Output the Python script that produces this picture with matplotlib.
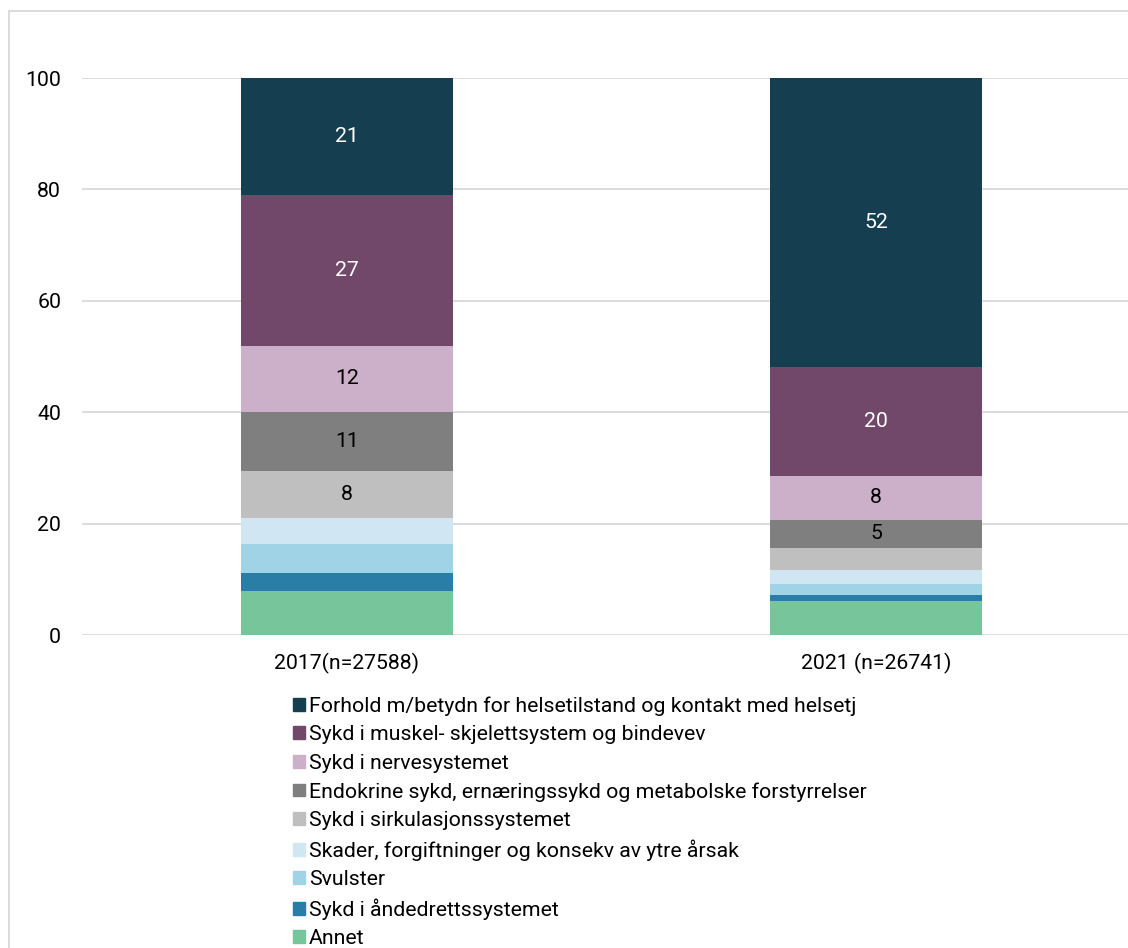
import matplotlib.pyplot as plt
import matplotlib.patches as mpatches
import numpy as np

plt.rcParams['font.family'] = ['Roboto', 'DejaVu Sans']

years = ['2017(n=27588)', '2021 (n=26741)']

# stacked from bottom to top
series = [
    'Annet',
    'Sykd i åndedrettssystemet',
    'Svulster',
    'Skader, forgiftninger og konsekv av ytre årsak',
    'Sykd i sirkulasjonssystemet',
    'Endokrine sykd, ernæringssykd og metabolske forstyrrelser',
    'Sykd i nervesystemet',
    'Sykd i muskel- skjelettsystem og bindevev',
    'Forhold m/betydn for helsetilstand og kontakt med helsetj',
]
annet = [7.9, 6.2]
aandedrett = [3.3, 1.0]
svulster = [5.2, 2.0]
skader = [4.6, 2.6]
sirkulasjon = [8.4, 3.9]
endokrine = [10.6, 5.0]
nerve = [12.0, 7.9]
muskel = [27.0, 19.6]
forhold = [21.0, 51.8]
values = [annet, aandedrett, svulster, skader, sirkulasjon, endokrine, nerve, muskel, forhold]

colors = ['#76c59b', '#2a7da6', '#a0d3e6', '#d0e7f3', '#bfbfbf',
          '#7f7f7f', '#ccafc9', '#714869', '#163e51']
text_colors = ['black'] * 7 + ['white', 'white']
labelled = [False, False, False, False, True, True, True, True, True]

fs = 15.3

fig = plt.figure(figsize=(11.28, 9.48), dpi=100)
ax = fig.add_axes([82 / 1128, 1 - 635.3 / 948, 1059 / 1128, 557.3 / 948])

x = np.arange(len(years))
bottom = np.zeros(len(years))
for name, vals, col, tcol, lab in zip(series, values, colors, text_colors, labelled):
    vals = np.array(vals)
    ax.bar(x, vals, width=0.4, bottom=bottom, color=col, label=name, zorder=3)
    if lab:
        for xi, v, b in zip(x, vals, bottom):
            if v >= 4.5:
                ax.text(xi, b + v / 2, f'{v:.0f}', ha='center', va='center',
                        color=tcol, fontsize=fs, zorder=4)
    bottom += vals

ax.set_xlim(-0.5, 1.5)
ax.set_ylim(0, 100)
ax.set_yticks([0, 20, 40, 60, 80, 100])
ax.set_xticks(x)
ax.set_xticklabels(years)
ax.tick_params(axis='both', length=0, labelsize=fs, colors='black')
ax.tick_params(axis='y', pad=15)
ax.tick_params(axis='x', pad=13)
ax.yaxis.grid(True, color='#d9d9d9', linewidth=1.3, zorder=0)
for s in ax.spines.values():
    s.set_visible(False)

# outer frame
fig.patches.append(mpatches.Rectangle((9 / 1128, -0.1), 1.2, 1 - 11 / 948 + 0.1,
                                      transform=fig.transFigure, fill=False,
                                      edgecolor='#d9d9d9', linewidth=1.3))

handles = [mpatches.Patch(color=c, label=n) for c, n in zip(colors, series)][::-1]
fig.legend(handles=handles, loc='upper left',
           bbox_to_anchor=(293 / 1128, 1 - 696.5 / 948), bbox_transform=fig.transFigure,
           frameon=False, fontsize=fs, borderpad=0, borderaxespad=0,
           handlelength=0.55, handleheight=0.55, handletextpad=0.2,
           labelspacing=0.44)

fig.savefig('out.png', dpi=100)
